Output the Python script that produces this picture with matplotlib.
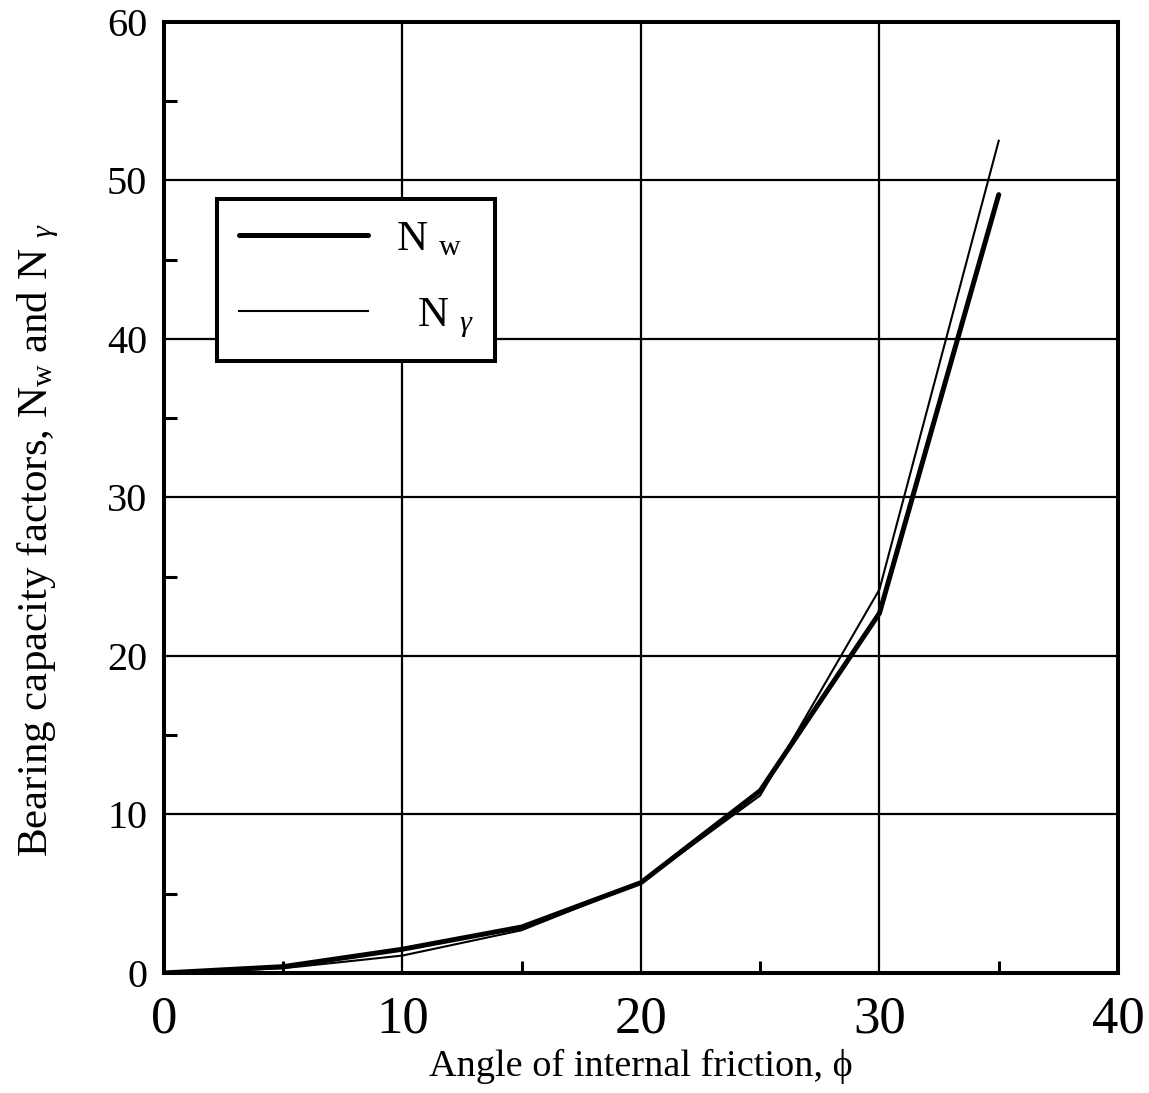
import matplotlib
matplotlib.use('Agg')
import matplotlib.pyplot as plt
from matplotlib.ticker import MultipleLocator

# Данные
phi = [0, 5, 10, 15, 20, 25, 30, 35]
n_w = [0.0, 0.4, 1.5, 2.9, 5.7, 11.5, 22.7, 49.1]
n_gamma = [0.0, 0.3, 1.1, 2.7, 5.7, 11.2, 24.2, 52.5]

plt.rcParams['font.family'] = ['Liberation Serif', 'DejaVu Serif']
plt.rcParams['mathtext.fontset'] = 'custom'
plt.rcParams['mathtext.rm'] = 'Liberation Serif'
plt.rcParams['mathtext.it'] = 'Liberation Serif:italic'

fig = plt.figure(figsize=(11.49, 10.93), dpi=100)
ax = fig.add_axes([0.1427, 0.1098, 0.8303, 0.8702])

ax.plot(phi, n_w, color='black', lw=3.6, solid_capstyle='round', label=r'N $_{\rm w}$', zorder=3)
ax.plot(phi, n_gamma, color='black', lw=1.5, label=r'  N $_{\gamma}$', zorder=3)

ax.set_xlim(0, 40)
ax.set_ylim(0, 60)
ax.xaxis.set_major_locator(MultipleLocator(10))
ax.xaxis.set_minor_locator(MultipleLocator(5))
ax.yaxis.set_major_locator(MultipleLocator(10))
ax.yaxis.set_minor_locator(MultipleLocator(5))
ax.grid(True, which='major', color='black', lw=1.6)
ax.tick_params(which='both', direction='in', width=2.2, color='black')
ax.tick_params(which='major', length=0)
ax.tick_params(which='minor', length=9)
ax.tick_params(axis='x', labelsize=38, pad=16)
ax.tick_params(axis='y', labelsize=29, pad=12)
for s in ax.spines.values():
    s.set_linewidth(2.9)

ax.set_xlabel(r'Angle of internal friction, ϕ', fontsize=27.5, labelpad=4)
ax.set_ylabel(r'Bearing capacity factors, $\mathrm{N_w}$ and N $_{\gamma}$', fontsize=31)
ax.yaxis.set_label_coords(-0.108, 0.455)

leg = ax.legend(loc='upper left', bbox_to_anchor=(0.0556, 0.814), fontsize=31,
                handlelength=3.0, handletextpad=0.65, labelspacing=0.85,
                borderpad=0.5, borderaxespad=0, fancybox=False, framealpha=1,
                edgecolor='black')
leg.get_frame().set_linewidth(2.9)

fig.savefig('out.png', dpi=100)
